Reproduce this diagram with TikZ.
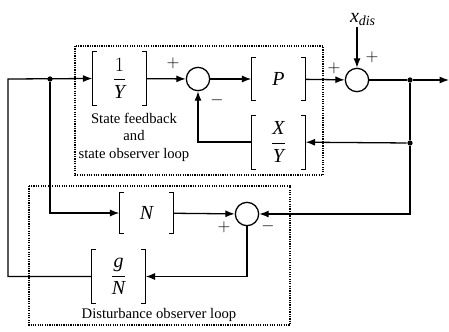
\documentclass[tikz,border=0pt]{standalone}
\usepackage{amsmath}
\usepackage{fontspec}
\setmainfont{Liberation Serif}
\usepackage{tikz}
\usetikzlibrary{arrows.meta, positioning}

\tikzset{
  blk/.style={minimum width=1.59cm, minimum height=1.59cm, inner sep=0pt, font=\fontsize{17}{20}\selectfont},
  sumj/.style={circle, draw, line width=1.1pt, minimum size=0.7cm, inner sep=0pt},
  dotj/.style={circle, fill, inner sep=0pt, minimum size=4.5pt},
  loopbox/.style={densely dotted, line width=1pt},
  sgn/.style={font=\fontsize{14}{14}\selectfont, inner sep=0pt},
  capt/.style={font=\fontsize{12.5}{15}\selectfont, align=center, inner sep=0pt}
}

\begin{document}
\begin{tikzpicture}[x=0.03cm,y=-0.03cm,->,>={Latex[length=8pt,width=6pt]},line width=1.1pt]
    \useasboundingbox (0,0) rectangle (449,331);

    % blocks and summing junctions
    \node[blk] (iy) at (119.5,78.5) {$\dfrac{1}{\mathit{Y}}$};
    \node[sumj] (s1) at (198,79) {};
    \node[blk, minimum height=1.26cm] (p) at (278.5,79) {$\mathit{P}$};
    \node[sumj] (s2) at (357,80) {};
    \node[blk] (xy) at (278.5,142) {$\dfrac{\mathit{X}}{\mathit{Y}}$};
    \node[blk, minimum height=1.2cm] (n) at (146.5,213) {$\mathit{N}$};
    \node[sumj] (s3) at (247,214) {};
    \node[blk] (gn) at (118.5,276.5) {$\dfrac{\mathit{g}}{\mathit{N}}$};

    \foreach \b in {iy,p,xy,n,gn}
      \draw[-, line width=0.6pt] ([xshift=4pt]\b.north west) -- (\b.north west) -- (\b.south west) -- ([xshift=4pt]\b.south west)
            ([xshift=-4pt]\b.north east) -- (\b.north east) -- (\b.south east) -- ([xshift=-4pt]\b.south east);

    % branch points
    \coordinate (lft) at (8,79);
    \node[dotj] (j0) at (50,79) {};
    \node[dotj] (j1) at (410,80) {};
    \node[dotj] (j2) at (410,143) {};
    \coordinate (out) at (449,80);
    \coordinate (xin) at (357,27);
    \node[font=\fontsize{17}{20}\selectfont, anchor=south, inner sep=1pt] (xd) at ([xshift=5pt]xin) {$\mathit{x}_{\mathit{dis}}$};

    % signals
    \draw (iy) -- (s1);
    \draw (s1) -- (p);
    \draw (p) -- (s2);
    \draw (xin) -- (s2);
    \draw (s2) -- (j1) -- (out);
    \draw[-] (j1) -- (j2);
    \draw (j2) -- (xy);
    \draw (j2) |- (s3.east);
    \draw (xy.west) -| (s1.south);
    \draw (n) -- (s3);
    \draw (s3.south) |- (gn.east);
    \draw (gn.west) -| (lft) -- (iy.west);
    \draw (j0) |- (n.west);

    % signs
    \node[sgn] (pl1) at (173,63) {$+$};
    \node[sgn] (mi1) at (217,100) {$-$};
    \node[sgn] (pl2) at (334,68) {$+$};
    \node[sgn] (pl3) at (372,57) {$+$};
    \node[sgn] (pl4) at (224,227) {$+$};
    \node[sgn] (mi2) at (268,226) {$-$};

    % loops
    \draw[-, loopbox] (75,46) rectangle (323,175);
    \draw[-, loopbox] (29,186) rectangle (290,325);
    \node[capt] (c1) at (134,137) {State feedback\\and\\state observer loop};
    \node[capt] (c2) at (159,315) {Disturbance observer loop};
\end{tikzpicture}
\end{document}
